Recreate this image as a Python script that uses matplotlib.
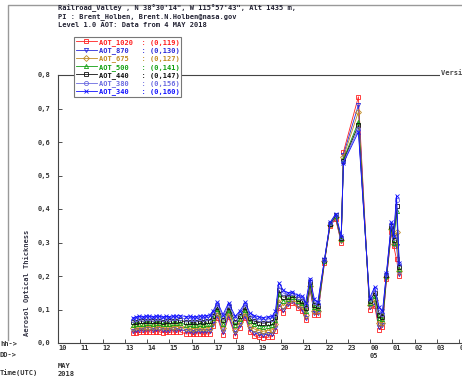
import matplotlib
matplotlib.use('Agg')
import matplotlib.pyplot as plt
from matplotlib.lines import Line2D

W, H = 462, 376

plt.rcParams['font.family'] = 'DejaVu Sans Mono'
plt.rcParams['font.weight'] = 'bold'
plt.rcParams['font.size'] = 5

# UTC hour of each measurement (values past 24 are on 5 MAY)
hours = [13.35, 13.5, 13.65, 13.8, 13.95, 14.1, 14.25, 14.4, 14.55, 14.7, 14.85, 15.0, 15.15, 15.3, 15.45,
         15.75, 15.9, 16.05, 16.2, 16.35, 16.5, 16.65, 16.8,
         16.95, 17.15, 17.4, 17.65, 17.95, 18.15, 18.4, 18.6, 18.8, 19.0, 19.2, 19.4, 19.6, 19.75,
         19.9, 20.1, 20.3, 20.5, 20.75, 20.95, 21.1, 21.3, 21.5, 21.65,
         21.95, 22.2, 22.45, 22.7, 22.8, 23.47,
         23.97, 24.2, 24.4, 24.55, 24.73, 24.95, 25.05, 25.18, 25.3]

aot_340 = [0.075, 0.078, 0.080, 0.079, 0.081, 0.080, 0.079, 0.081, 0.080, 0.078, 0.080, 0.079, 0.081, 0.080, 0.082,
           0.079, 0.080, 0.078, 0.079, 0.081, 0.080, 0.082, 0.083,
           0.095, 0.122, 0.085, 0.120, 0.080, 0.095, 0.121, 0.090, 0.082, 0.078, 0.076, 0.078, 0.080, 0.095,
           0.180, 0.158, 0.150, 0.152, 0.142, 0.140, 0.120, 0.192, 0.130, 0.122,
           0.250, 0.360, 0.385, 0.320, 0.537, 0.630,
           0.134, 0.167, 0.107, 0.095, 0.210, 0.360, 0.320, 0.440, 0.240]
aot_380 = [0.069, 0.072, 0.074, 0.073, 0.075, 0.074, 0.073, 0.075, 0.074, 0.072, 0.074, 0.073, 0.075, 0.074, 0.076,
           0.072, 0.073, 0.071, 0.072, 0.074, 0.073, 0.075, 0.076,
           0.089, 0.116, 0.078, 0.114, 0.073, 0.089, 0.115, 0.083, 0.075, 0.071, 0.069, 0.071, 0.073, 0.088,
           0.170, 0.149, 0.145, 0.148, 0.137, 0.134, 0.113, 0.187, 0.123, 0.117,
           0.249, 0.358, 0.383, 0.316, 0.540, 0.640,
           0.130, 0.160, 0.098, 0.088, 0.207, 0.356, 0.314, 0.428, 0.235]
aot_440 = [0.062, 0.064, 0.066, 0.065, 0.067, 0.066, 0.065, 0.067, 0.066, 0.064, 0.066, 0.065, 0.067, 0.066, 0.068,
           0.063, 0.064, 0.062, 0.063, 0.065, 0.064, 0.066, 0.067,
           0.081, 0.108, 0.068, 0.106, 0.063, 0.080, 0.107, 0.074, 0.065, 0.061, 0.059, 0.061, 0.063, 0.078,
           0.158, 0.137, 0.138, 0.143, 0.131, 0.126, 0.104, 0.181, 0.114, 0.110,
           0.247, 0.356, 0.381, 0.312, 0.544, 0.650,
           0.124, 0.150, 0.085, 0.079, 0.203, 0.350, 0.306, 0.410, 0.228]
aot_500 = [0.055, 0.057, 0.058, 0.058, 0.059, 0.059, 0.058, 0.060, 0.059, 0.057, 0.058, 0.058, 0.059, 0.059, 0.060,
           0.055, 0.056, 0.054, 0.055, 0.056, 0.055, 0.057, 0.058,
           0.074, 0.101, 0.058, 0.099, 0.053, 0.073, 0.100, 0.065, 0.056, 0.051, 0.049, 0.051, 0.053, 0.069,
           0.146, 0.126, 0.132, 0.138, 0.125, 0.119, 0.096, 0.176, 0.106, 0.103,
           0.246, 0.355, 0.379, 0.310, 0.548, 0.660,
           0.119, 0.141, 0.074, 0.071, 0.200, 0.346, 0.300, 0.395, 0.222]
aot_675 = [0.045, 0.047, 0.048, 0.048, 0.049, 0.049, 0.048, 0.050, 0.049, 0.047, 0.048, 0.048, 0.049, 0.049, 0.050,
           0.044, 0.045, 0.043, 0.044, 0.045, 0.044, 0.046, 0.046,
           0.064, 0.091, 0.045, 0.090, 0.040, 0.062, 0.090, 0.052, 0.042, 0.037, 0.035, 0.037, 0.039, 0.056,
           0.130, 0.111, 0.124, 0.132, 0.117, 0.109, 0.085, 0.170, 0.096, 0.095,
           0.244, 0.353, 0.376, 0.306, 0.555, 0.690,
           0.112, 0.128, 0.060, 0.061, 0.196, 0.340, 0.295, 0.330, 0.214]
aot_870 = [0.037, 0.039, 0.040, 0.040, 0.041, 0.041, 0.040, 0.042, 0.041, 0.039, 0.040, 0.040, 0.041, 0.040, 0.042,
           0.035, 0.036, 0.034, 0.035, 0.036, 0.035, 0.036, 0.036,
           0.056, 0.083, 0.034, 0.083, 0.029, 0.053, 0.082, 0.042, 0.031, 0.026, 0.024, 0.026, 0.028, 0.045,
           0.116, 0.099, 0.117, 0.126, 0.110, 0.101, 0.076, 0.165, 0.090, 0.090,
           0.242, 0.351, 0.373, 0.303, 0.562, 0.710,
           0.106, 0.118, 0.049, 0.054, 0.193, 0.335, 0.292, 0.290, 0.207]
aot_1020 = [0.030, 0.031, 0.032, 0.032, 0.033, 0.033, 0.032, 0.034, 0.033, 0.031, 0.032, 0.032, 0.033, 0.032, 0.034,
            0.027, 0.028, 0.026, 0.027, 0.028, 0.026, 0.027, 0.027,
            0.050, 0.076, 0.025, 0.078, 0.021, 0.046, 0.076, 0.034, 0.022, 0.017, 0.016, 0.017, 0.019, 0.036,
            0.105, 0.090, 0.110, 0.120, 0.105, 0.095, 0.070, 0.160, 0.085, 0.085,
            0.240, 0.350, 0.370, 0.300, 0.570, 0.735,
            0.100, 0.110, 0.040, 0.048, 0.190, 0.330, 0.290, 0.250, 0.200]

channels = ['AOT_1020', 'AOT_870', 'AOT_675', 'AOT_500', 'AOT_440', 'AOT_380', 'AOT_340']
counts = [119, 130, 127, 141, 147, 156, 160]
series = [aot_1020, aot_870, aot_675, aot_500, aot_440, aot_380, aot_340]
colors = ['#ff2020', '#2a2ad8', '#c08a20', '#10a010', '#101010', '#6a6ae0', '#1010ff']
markers = ['s', 'v', 'D', '^', 's', 'o', 'x']

hour_ticks = list(range(10, 30))
hour_labels = ['%02d' % (h % 24) for h in hour_ticks]
ytick_vals = [0.0, 0.1, 0.2, 0.3, 0.4, 0.5, 0.6, 0.7, 0.8]


def fx(px):
    return px / W


def fy(py):
    return 1 - py / H


fig = plt.figure(figsize=(W / 100, H / 100), dpi=100)
ax = fig.add_axes([fx(58), fy(343), 20 * 22.3 / W, (343 - 75) / H])

for name, n, vals, c, m in zip(channels, counts, series, colors, markers):
    ax.plot(hours, vals, color=c, lw=0.6, marker=m, ms=3, mfc='none', mew=0.6,
            label='%-9s : (0,%d)' % (name, n))

ax.set_xlim(10, 30)
ax.set_ylim(0, 0.8)
ax.set_xticks(hour_ticks)
ax.set_xticklabels(hour_labels)
for lab in ax.get_xticklabels():
    lab.set_ha('left')
ax.set_yticks(ytick_vals)
ax.set_yticklabels([('%.1f' % v).replace('.', ',') for v in ytick_vals])
ax.tick_params(axis='both', direction='in', length=3, width=0.6, colors='#333333', labelsize=5)
ax.tick_params(axis='x', pad=1.5)
ax.tick_params(axis='y', pad=5.5)
for s in ax.spines.values():
    s.set_linewidth(0.8)
    s.set_color('#444444')

leg = ax.legend(loc='upper left', bbox_to_anchor=(fx(74), fy(37)), bbox_transform=fig.transFigure,
                prop={'family': 'DejaVu Sans Mono', 'weight': 'bold', 'size': 5},
                labelcolor='linecolor', numpoints=1, handlelength=3.0, handletextpad=0.3,
                labelspacing=0.2, borderpad=0.25, borderaxespad=0, fancybox=False,
                framealpha=1, edgecolor='#777777')
leg.get_frame().set_linewidth(0.8)

# outer frame
fig.add_artist(Line2D([fx(8), fx(8), 1], [fy(340), fy(5), fy(5)], color='#999999', lw=1,
                      transform=fig.transFigure))

header = ['Railroad_Valley , N 38\u00b030\'14", W 115\u00b057\'43", Alt 1435 m,',
          'PI : Brent_Holben, Brent.N.Holben@nasa.gov',
          'Level 1.0 AOT: Data from 4 MAY 2018']
for i, line in enumerate(header):
    fig.text(fx(58), fy(8 + 8.5 * i), line, ha='left', va='center', color='#222233')

fig.text(fx(441), fy(73), 'Version 3', ha='left', va='center', color='#444444',
         bbox=dict(facecolor='white', edgecolor='none', pad=0.5))

fig.text(fx(27), fy(283), 'Aerosol Optical Thickness', rotation=90, ha='center', va='center',
         color='#333344')

fig.text(0, fy(344), 'hh->', ha='left', va='center', color='#333333')
fig.text(0, fy(355), 'DD->', ha='left', va='center', color='#333333')
fig.text(fx(370), fy(356), '05', ha='left', va='center', color='#333333')
fig.text(fx(58), fy(366), 'MAY', ha='left', va='center', color='#333333')
fig.text(fx(58), fy(374), '2018', ha='left', va='center', color='#333333')
fig.text(0, fy(373), 'Time(UTC)', ha='left', va='center', color='#333333')

fig.savefig('out.png', dpi=100)
